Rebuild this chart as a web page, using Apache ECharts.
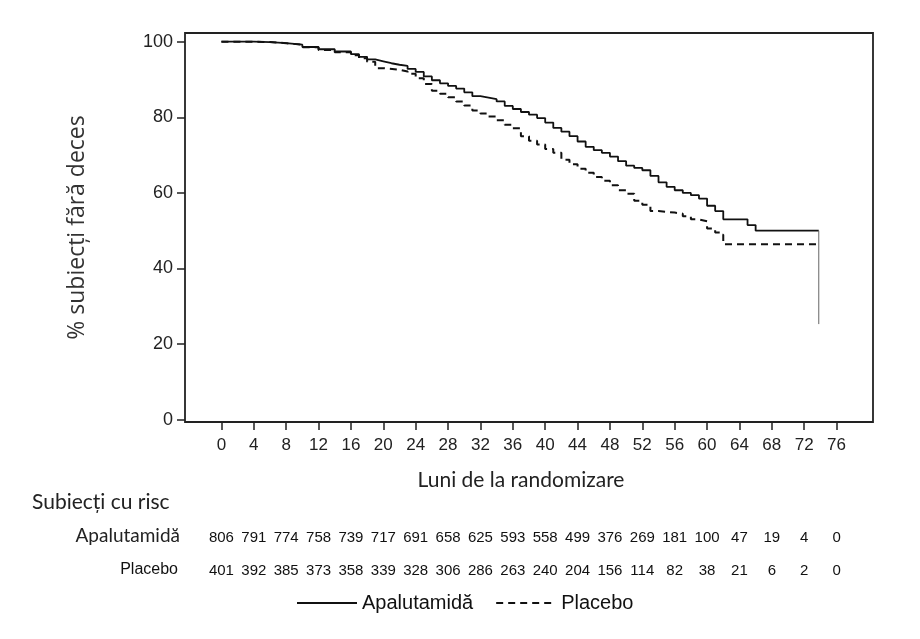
<!DOCTYPE html>
<html>
<head>
<meta charset="utf-8">
<script src="https://cdn.jsdelivr.net/npm/echarts@6/dist/echarts.min.js"></script>
<style>
  html, body { margin: 0; padding: 0; background: #fff; }
  #main { width: 920px; height: 639px; }
</style>
</head>
<body>
<div id="main"></div>
<script>
// ---- data ----
const months = [0, 4, 8, 12, 16, 20, 24, 28, 32, 36, 40, 44, 48, 52, 56, 60, 64, 68, 72, 76];
const yTicks = [0, 20, 40, 60, 80, 100];
const riskApalutamida = [806, 791, 774, 758, 739, 717, 691, 658, 625, 593, 558, 499, 376, 269, 181, 100, 47, 19, 4, 0];
const riskPlacebo = [401, 392, 385, 373, 358, 339, 328, 306, 286, 263, 240, 204, 156, 114, 82, 38, 21, 6, 2, 0];

const apalTime = [0, 2, 4, 6, 8, 10, 12, 14, 16, 17, 18, 19, 20, 21, 22, 23, 24, 25, 26, 27, 28, 29, 30, 31, 32, 33, 34, 35, 36, 37, 38, 39, 40, 41, 42, 43, 44, 45, 46, 47, 48, 49, 50, 51, 52, 53, 54, 55, 56, 57, 58, 59, 60, 61, 62, 65, 66, 73.8];
const apalSurv = [100, 100, 99.9, 99.6, 99.2, 98.6, 98.0, 97.4, 96.7, 96.0, 95.3, 94.8, 94.3, 93.9, 93.6, 92.8, 92.0, 90.8, 89.8, 89.0, 88.3, 87.6, 86.6, 85.6, 85.2, 84.8, 84.2, 83.0, 82.2, 81.4, 80.7, 79.8, 78.6, 77.2, 76.2, 75.0, 73.6, 72.2, 71.3, 70.6, 69.6, 68.4, 67.2, 66.6, 66.0, 64.5, 62.8, 61.6, 60.7, 60.0, 59.4, 58.5, 56.6, 55.2, 53.0, 51.5, 50.0, 50.0];

const placTime = [0, 2, 4, 6, 8, 10, 12, 14, 16, 17, 18, 19, 20, 22, 23, 24, 25, 26, 27, 28, 29, 30, 31, 32, 33, 34, 35, 36, 37, 38, 39, 40, 41, 42, 43, 44, 45, 46, 47, 48, 49, 50, 51, 52, 53, 54, 56, 57, 58, 59, 60, 61, 61.6, 62, 73.9];
const placSurv = [100, 100, 99.9, 99.6, 99.2, 98.5, 97.8, 97.2, 96.4, 95.6, 94.7, 93.0, 92.6, 92.1, 91.5, 90.3, 88.8, 87.0, 86.2, 85.3, 84.2, 83.1, 81.8, 81.0, 80.2, 79.2, 78.0, 77.1, 75.0, 73.8, 72.8, 71.6, 70.6, 68.8, 67.6, 66.4, 65.3, 64.2, 63.2, 62.0, 60.7, 59.8, 57.9, 56.9, 55.2, 54.8, 54.5, 53.8, 53.0, 52.5, 50.6, 49.5, 48.9, 46.4, 46.4];

const dropTime = [73.8, 73.8];
const dropSurv = [50.0, 25.3];

const seriesNames = ['Apalutamidă', 'Placebo'];
const xTitle = 'Luni de la randomizare';
const yTitle = '% subiecți fără deces';
const riskTitle = 'Subiecți cu risc';

// ---- chart ----
const zip = (a, b) => a.map((v, i) => [v, b[i]]);
const chart = echarts.init(document.getElementById('main'), null, { renderer: 'canvas' });

const riskAxis = (arr, offset) => ({
  type: 'value', min: -4.5, max: 80.5, position: 'bottom', offset: offset,
  axisLine: { show: false, onZero: false }, axisTick: { show: false }, splitLine: { show: false },
  axisLabel: {
    customValues: months, margin: 6, fontFamily: 'Liberation Sans', fontSize: 15, color: '#111',
    formatter: v => String(arr[months.indexOf(v)])
  }
});

const option = {
  animation: false,
  backgroundColor: '#ffffff',
  grid: { left: 185, right: 47, top: 33, bottom: 217, show: true, borderColor: '#222', borderWidth: 1.8, backgroundColor: 'transparent' },
  xAxis: [
    {
      type: 'value', min: -4.5, max: 80.5,
      axisLine: { show: false, onZero: false },
      splitLine: { show: false },
      axisTick: { show: true, customValues: months, length: 8, lineStyle: { color: '#222', width: 1.5 } },
      axisLabel: { customValues: months, margin: 15, fontFamily: 'Liberation Sans', fontSize: 17, color: '#222' },
      name: xTitle, nameLocation: 'middle', nameGap: 48, nameMoveOverlap: false,
      nameTextStyle: { fontFamily: 'Lato', fontSize: 21, color: '#222', padding: [0, 16, 0, 0] }
    },
    riskAxis(riskApalutamida, 102),
    riskAxis(riskPlacebo, 135)
  ],
  yAxis: {
    type: 'value', min: -0.6, max: 102.3,
    axisLine: { show: false, onZero: false },
    splitLine: { show: false },
    axisTick: { show: true, customValues: yTicks, length: 8, lineStyle: { color: '#222', width: 1.5 } },
    axisLabel: { customValues: yTicks, margin: 12, fontFamily: 'Liberation Sans', fontSize: 18, color: '#222' },
    name: yTitle, nameLocation: 'middle', nameGap: 96, nameMoveOverlap: false,
    nameTextStyle: { fontFamily: 'Open Sans', fontSize: 23, color: '#333' }
  },
  legend: {
    data: seriesNames, left: 296, top: 593, padding: 0, itemWidth: 60, itemHeight: 14, itemGap: 22,
    itemStyle: { color: 'transparent', borderWidth: 0, opacity: 0 },
    textStyle: { fontFamily: 'Liberation Sans', fontSize: 20, color: '#111' }
  },
  graphic: [
    { type: 'text', left: 32, top: 492, style: { text: riskTitle, font: '21px Lato', fill: '#222' } },
    { type: 'text', right: 740, top: 526, style: { text: seriesNames[0], font: '19px Lato', fill: '#222' } },
    { type: 'text', right: 742, top: 562, style: { text: seriesNames[1], font: '16px "Liberation Sans"', fill: '#111' } }
  ],
  series: [
    {
      name: seriesNames[0], type: 'line', step: 'end', showSymbol: false, symbol: 'none',
      data: zip(apalTime, apalSurv), xAxisIndex: 0,
      lineStyle: { color: '#111', width: 1.8, type: 'solid' }, itemStyle: { color: '#111' }
    },
    {
      name: seriesNames[1], type: 'line', step: 'end', showSymbol: false, symbol: 'none',
      data: zip(placTime, placSurv), xAxisIndex: 0,
      lineStyle: { color: '#111', width: 2, type: [7, 5] }, itemStyle: { color: '#111' }
    },
    {
      name: 'drop', type: 'line', showSymbol: false, symbol: 'none',
      data: zip(dropTime, dropSurv), xAxisIndex: 0,
      lineStyle: { color: '#666', width: 1 }
    }
  ]
};
chart.setOption(option);
</script>
</body>
</html>
